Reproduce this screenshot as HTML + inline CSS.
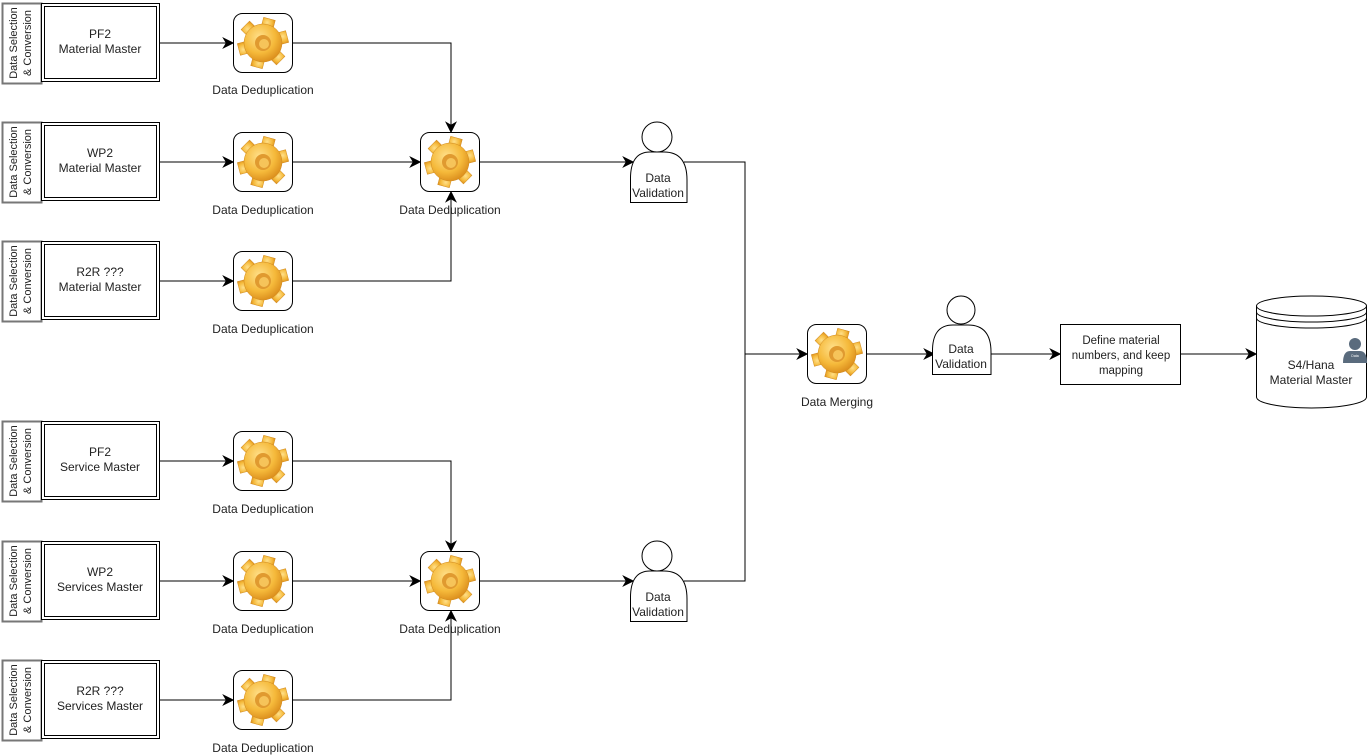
<!DOCTYPE html>
<html><head><meta charset="utf-8"><style>
html,body{margin:0;padding:0;background:#fff}
svg{display:block}
text{font-family:"Liberation Sans",Arial,sans-serif;font-size:12px;fill:#222}
</style></head><body>
<svg width="1367" height="755" viewBox="0 0 1367 755" xmlns="http://www.w3.org/2000/svg">
<defs>
<radialGradient id="gg" cx="40%" cy="35%" r="70%">
<stop offset="0" stop-color="#ffe08a"/><stop offset="0.6" stop-color="#f5b93a"/><stop offset="1" stop-color="#d98a1a"/>
</radialGradient>
<marker id="ar" viewBox="0 0 10 10" refX="9" refY="5" markerWidth="12" markerHeight="12" markerUnits="userSpaceOnUse" orient="auto">
<path d="M0,0 L10,5 L0,10 L3,5 z" fill="#000"/></marker>
<g id="gear">
<rect x="0.5" y="0.5" width="59" height="59" rx="9" fill="#fff" stroke="#000"/>
<g transform="translate(30,30)">
<g fill="url(#gg)" stroke="#d08a20" stroke-width="0.5">
<rect x="-6" y="-25" width="12" height="12" transform="rotate(15)"/>
<rect x="-6" y="-25" width="12" height="12" transform="rotate(75)"/>
<rect x="-6" y="-25" width="12" height="12" transform="rotate(135)"/>
<rect x="-6" y="-25" width="12" height="12" transform="rotate(195)"/>
<rect x="-6" y="-25" width="12" height="12" transform="rotate(255)"/>
<rect x="-6" y="-25" width="12" height="12" transform="rotate(315)"/>
<circle r="19"/>
</g>
<circle r="8" fill="#e09a30"/><circle r="5" cx="1" cy="1" fill="#f6c45a"/>
</g>
</g>
<g id="src">
<rect x="2.5" y="0.5" width="39" height="80" fill="#fff" stroke="#777" stroke-width="2"/>
<rect x="41.5" y="0.5" width="118" height="78" fill="#fff" stroke="#000"/>
<rect x="44.5" y="3.5" width="112" height="72" fill="none" stroke="#000"/>
<text transform="translate(17,40) rotate(-90)" text-anchor="middle" style="font-size:11px">Data Selection</text>
<text transform="translate(31,40) rotate(-90)" text-anchor="middle" style="font-size:11px">&amp; Conversion</text>
</g>
</defs>

<use href="#src" x="0" y="3"/><text x="100" y="38" text-anchor="middle">PF2</text><text x="100" y="53" text-anchor="middle">Material Master</text>
<use href="#src" x="0" y="122"/><text x="100" y="157" text-anchor="middle">WP2</text><text x="100" y="172" text-anchor="middle">Material Master</text>
<use href="#src" x="0" y="241"/><text x="100" y="276" text-anchor="middle">R2R ???</text><text x="100" y="291" text-anchor="middle">Material Master</text>
<use href="#src" x="0" y="421"/><text x="100" y="456" text-anchor="middle">PF2</text><text x="100" y="471" text-anchor="middle">Service Master</text>
<use href="#src" x="0" y="541"/><text x="100" y="576" text-anchor="middle">WP2</text><text x="100" y="591" text-anchor="middle">Services Master</text>
<use href="#src" x="0" y="660"/><text x="100" y="695" text-anchor="middle">R2R ???</text><text x="100" y="710" text-anchor="middle">Services Master</text>

<g text-anchor="middle">
<use href="#gear" x="233" y="13"/><text x="263" y="94">Data Deduplication</text>
<use href="#gear" x="233" y="132"/><text x="263" y="214">Data Deduplication</text>
<use href="#gear" x="233" y="251"/><text x="263" y="333">Data Deduplication</text>
<use href="#gear" x="233" y="431"/><text x="263" y="513">Data Deduplication</text>
<use href="#gear" x="233" y="551"/><text x="263" y="633">Data Deduplication</text>
<use href="#gear" x="233" y="670"/><text x="263" y="752">Data Deduplication</text>
<use href="#gear" x="420" y="132"/><text x="450" y="214">Data Deduplication</text>
<use href="#gear" x="420" y="551"/><text x="450" y="633">Data Deduplication</text>
<use href="#gear" x="807" y="324"/><text x="837" y="406">Data Merging</text>
</g>

<g stroke="#000" fill="none" stroke-width="1">
<path d="M160,43 H233" marker-end="url(#ar)"/>
<path d="M160,162 H233" marker-end="url(#ar)"/>
<path d="M160,281 H233" marker-end="url(#ar)"/>
<path d="M160,461 H233" marker-end="url(#ar)"/>
<path d="M160,581 H233" marker-end="url(#ar)"/>
<path d="M160,700 H233" marker-end="url(#ar)"/>
<path d="M293,43 H451 V132" marker-end="url(#ar)"/>
<path d="M293,162 H420" marker-end="url(#ar)"/>
<path d="M293,281 H451 V192" marker-end="url(#ar)"/>
<path d="M293,461 H451 V551" marker-end="url(#ar)"/>
<path d="M293,581 H420" marker-end="url(#ar)"/>
<path d="M293,700 H451 V611" marker-end="url(#ar)"/>
<path d="M480,162 H633" marker-end="url(#ar)"/>
<path d="M480,581 H633" marker-end="url(#ar)"/>
<path d="M684,162 H745 V581 H684"/>
<path d="M745,354 H807" marker-end="url(#ar)"/>
<path d="M867,354 H934" marker-end="url(#ar)"/>
<path d="M989,354 H1060" marker-end="url(#ar)"/>
<path d="M1181,354 H1256" marker-end="url(#ar)"/>
</g>

<g fill="#fff" stroke="#000">
<circle cx="657" cy="137" r="15"/>
<path d="M630.5,202.5 V180 Q630,152 650,152 H664 Q687,152 687,180 V202.5 Z"/>
<circle cx="657" cy="556" r="15"/>
<path d="M630.5,621.5 V599 Q630,571 650,571 H664 Q687,571 687,599 V621.5 Z"/>
<circle cx="961" cy="310" r="14"/>
<path d="M932.5,374.5 V352 Q932,325 953,325 H968 Q991,325 991,352 V374.5 Z"/>
</g>
<g text-anchor="middle">
<text x="658" y="182">Data</text><text x="658" y="197">Validation</text>
<text x="658" y="601">Data</text><text x="658" y="616">Validation</text>
<text x="961" y="353">Data</text><text x="961" y="368">Validation</text>
</g>

<rect x="1060.5" y="324.5" width="120" height="60" fill="#fff" stroke="#000"/>
<g text-anchor="middle">
<text x="1121" y="344" style="font-size:11.5px">Define material</text>
<text x="1121" y="359" style="font-size:11.5px">numbers, and keep</text>
<text x="1121" y="374" style="font-size:11.5px">mapping</text>
</g>

<g fill="#fff" stroke="#000">
<path d="M1256.5,306 V397 A55,11 0 0 0 1366.5,397 V306"/>
<ellipse cx="1311.5" cy="306" rx="55" ry="10"/>
<path d="M1256.5,312 A55,10 0 0 0 1366.5,312" fill="none"/>
<path d="M1256.5,318 A55,10 0 0 0 1366.5,318" fill="none"/>
</g>
<g fill="#5a6b7d">
<circle cx="1355" cy="344" r="6"/>
<path d="M1343,363 Q1343,351 1350,351 H1360 Q1367,351 1367,363 Z"/>
</g>
<text x="1355" y="357" text-anchor="middle" style="font-size:3.5px;fill:#fff">Data</text>
<g text-anchor="middle">
<text x="1311" y="369">S4/Hana</text>
<text x="1311" y="384">Material Master</text>
</g>
</svg>
</body></html>
